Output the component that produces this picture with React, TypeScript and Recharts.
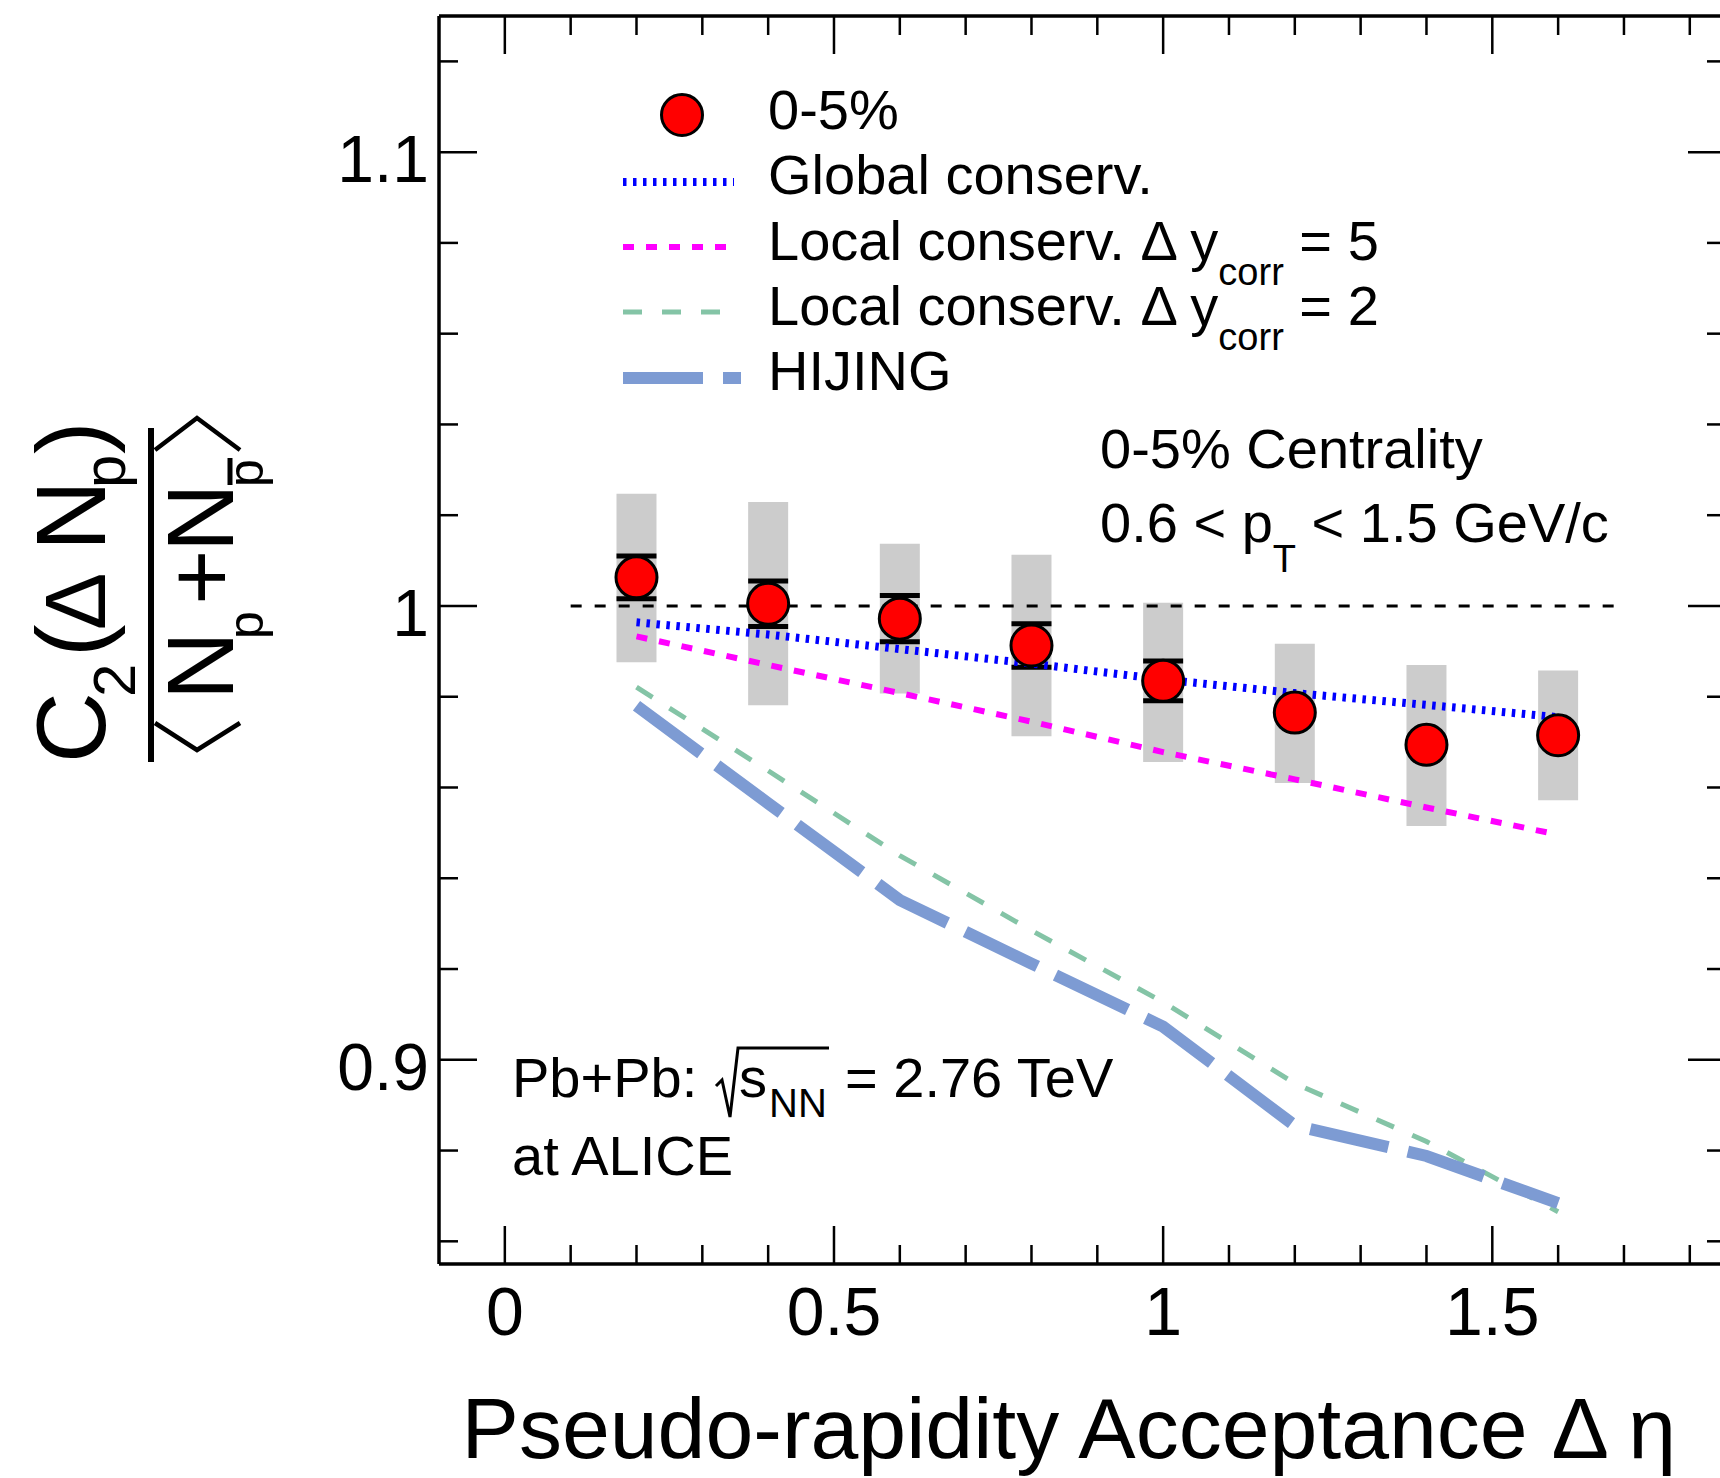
import React from 'react';
import {
  ComposedChart,
  Line,
  Scatter,
  ErrorBar,
  XAxis,
  YAxis,
  Customized,
} from 'recharts';

// measured points, 0-5% centrality
const etaBins = [0.2, 0.4, 0.6, 0.8, 1.0, 1.2, 1.4, 1.6];
const c2Values = [1.0063, 1.0005, 0.9972, 0.9913, 0.9835, 0.9765, 0.9694, 0.9715];
// last three stat bars are hidden behind the markers in the original
const statErr = [0.0047, 0.005, 0.0051, 0.0048, 0.0044, null, null, null];
const sysLow = [0.9876, 0.9781, 0.9807, 0.9713, 0.9656, 0.961, 0.9515, 0.9572];
const sysHigh = [1.0247, 1.0229, 1.0137, 1.0113, 1.0007, 0.9917, 0.987, 0.9858];

// model curves on the same bins
const globalCons = [0.9964, 0.9937, 0.9905, 0.9873, 0.9838, 0.9808, 0.9782, 0.9755];
const localCons5 = [0.9933, 0.987, 0.9808, 0.9745, 0.9678, 0.9618, 0.9556, 0.9496];
const localCons2 = [0.9821, 0.9637, 0.945, 0.9285, 0.9127, 0.8948, 0.882, 0.8665];
const hijing = [0.978, 0.9565, 0.9352, 0.9212, 0.9073, 0.8855, 0.8788, 0.8684];

// unity reference
const unityX = [0.1, 1.7];
const unityY = 1;

// axes
const xDomain = [-0.1, 1.855];
const yDomain = [0.855, 1.13];
const xTicks = [0, 0.1, 0.2, 0.3, 0.4, 0.5, 0.6, 0.7, 0.8, 0.9, 1, 1.1, 1.2, 1.3, 1.4, 1.5, 1.6, 1.7, 1.8];
const xMajor = [0, 0.5, 1, 1.5];
const xLabels = ['0', '0.5', '1', '1.5'];
const yTicks = [0.86, 0.88, 0.9, 0.92, 0.94, 0.96, 0.98, 1, 1.02, 1.04, 1.06, 1.08, 1.1, 1.12];
const yMajor = [0.9, 1, 1.1];
const yLabels = ['0.9', '1', '1.1'];

const FONT = '"Liberation Sans", Arial, Helvetica, sans-serif';
const W = 1760;
const H = 1478;

const points = etaBins.map((x, i) => ({
  x,
  y: c2Values[i],
  stat: statErr[i],
  sys: [c2Values[i] - sysLow[i], sysHigh[i] - c2Values[i]],
}));
const toRows = (vals: number[]) => etaBins.map((x, i) => ({ x, y: vals[i] }));
const unityRows = unityX.map((x) => ({ x, y: unityY }));

const MAJOR = 38;
const MINOR = 19;

const BottomTick = (p: any) => {
  const i = xMajor.indexOf(p.payload.value);
  const len = i >= 0 ? MAJOR : MINOR;
  return (
    <g>
      <line x1={p.x} y1={p.y} x2={p.x} y2={p.y - len} stroke="#000" strokeWidth={2.5} />
      {i >= 0 && (
        <text x={p.x} y={p.y + 71} textAnchor="middle" fontSize={68} fontFamily={FONT} fill="#000">
          {xLabels[i]}
        </text>
      )}
    </g>
  );
};

const TopTick = (p: any) => {
  const len = xMajor.includes(p.payload.value) ? MAJOR : MINOR;
  return <line x1={p.x} y1={p.y} x2={p.x} y2={p.y + len} stroke="#000" strokeWidth={2.5} />;
};

const LeftTick = (p: any) => {
  const i = yMajor.indexOf(p.payload.value);
  const len = i >= 0 ? MAJOR : MINOR;
  return (
    <g>
      <line x1={p.x} y1={p.y} x2={p.x + len} y2={p.y} stroke="#000" strokeWidth={2.5} />
      {i >= 0 && (
        <text x={p.x - 10} y={p.y + 30} textAnchor="end" fontSize={66} fontFamily={FONT} fill="#000">
          {yLabels[i]}
        </text>
      )}
    </g>
  );
};

const RightTick = (p: any) => {
  const len = yMajor.includes(p.payload.value) ? MAJOR : MINOR;
  return <line x1={p.x} y1={p.y} x2={p.x - len} y2={p.y} stroke="#000" strokeWidth={2.5} />;
};

const Marker = (p: any) => (
  <circle cx={p.cx} cy={p.cy} r={20.5} fill="#ff0000" stroke="#000" strokeWidth={3} />
);
const NoShape = () => <g />;

const Annotations = () => {
  const t = { fontFamily: FONT, fill: '#000' };
  return (
    <g>
      {/* legend */}
      <circle cx={682} cy={115} r={20.5} fill="#ff0000" stroke="#000" strokeWidth={3} />
      <line x1={623} y1={182} x2={734} y2={182} stroke="#0000ff" strokeWidth={8} strokeDasharray="3.5 6.5" />
      <line x1={623} y1={247} x2={730} y2={247} stroke="#ff00ff" strokeWidth={6} strokeDasharray="11 12" />
      <line x1={623} y1={312} x2={722} y2={312} stroke="#84c4a6" strokeWidth={5} strokeDasharray="19 20" />
      <line x1={623} y1={378} x2={741} y2={378} stroke="#7d9bd3" strokeWidth={12} strokeDasharray="80 20" />
      <text x={768} y={129} fontSize={56} {...t}>0-5%</text>
      <text x={768} y={194} fontSize={56} {...t}>Global conserv.</text>
      <text x={768} y={260} fontSize={56} {...t}>
        Local conserv. Δ y<tspan fontSize={38} dy={25}>corr</tspan><tspan dy={-25}> = 5</tspan>
      </text>
      <text x={768} y={325} fontSize={56} {...t}>
        Local conserv. Δ y<tspan fontSize={38} dy={25}>corr</tspan><tspan dy={-25}> = 2</tspan>
      </text>
      <text x={768} y={390} fontSize={56} {...t}>HIJING</text>

      {/* selection */}
      <text x={1100} y={468} fontSize={56} {...t}>0-5% Centrality</text>
      <text x={1100} y={542} fontSize={56} {...t}>
        0.6 &lt; p<tspan fontSize={38} dy={30}>T</tspan><tspan dy={-30}> &lt; 1.5 GeV/c</tspan>
      </text>

      {/* system */}
      <text x={512} y={1097} fontSize={56} {...t}>Pb+Pb:</text>
      <polyline points="716,1086 722,1080 730,1117 738,1048 829,1048" fill="none" stroke="#000" strokeWidth={3} />
      <text x={739} y={1097} fontSize={56} {...t}>s</text>
      <text x={769} y={1117} fontSize={40} {...t}>NN</text>
      <text x={845} y={1097} fontSize={56} {...t}>= 2.76 TeV</text>
      <text x={512} y={1175} fontSize={56} {...t}>at ALICE</text>

      {/* y title */}
      <g transform="translate(151,595) rotate(-90)">
        <line x1={-167} y1={0} x2={167} y2={0} stroke="#000" strokeWidth={6} />
        <text x={-168} y={-46} fontSize={98} {...t}>C</text>
        <text x={-102} y={-16} fontSize={60} {...t}>2</text>
        <text x={-62} y={-46} fontSize={98} {...t}>(</text>
        <text x={-35} y={-46} fontSize={86} {...t}>Δ</text>
        <text x={44} y={-46} fontSize={98} {...t}>N</text>
        <text x={107} y={-26} fontSize={60} {...t}>p</text>
        <text x={141} y={-46} fontSize={98} {...t}>)</text>
        <polyline points="-128,4 -155,46 -128,89" fill="none" stroke="#000" strokeWidth={4.5} />
        <text x={-105} y={82} fontSize={95} {...t}>N</text>
        <text x={-44} y={112} fontSize={50} {...t}>p</text>
        <text x={-10} y={82} fontSize={95} {...t}>+</text>
        <text x={43} y={82} fontSize={95} {...t}>N</text>
        <text x={108} y={112} fontSize={50} {...t}>p</text>
        <line x1={110} y1={79} x2={137} y2={79} stroke="#000" strokeWidth={5} />
        <polyline points="145,4 177,46 145,89" fill="none" stroke="#000" strokeWidth={4.5} />
      </g>

      {/* x title */}
      <text x={1676} y={1458} fontSize={86} textAnchor="end" {...t}>
        Pseudo-rapidity Acceptance Δ η
      </text>
    </g>
  );
};

export default function App() {
  return (
    <div style={{ position: 'absolute', left: 0, top: 0, width: 1720, height: 1478, overflow: 'hidden', background: '#fff' }}>
      <ComposedChart width={W} height={H} margin={{ top: 0, right: 0, bottom: 0, left: 0 }}>
        <XAxis
          xAxisId="bottom"
          dataKey="x"
          type="number"
          orientation="bottom"
          domain={xDomain}
          allowDataOverflow
          ticks={xTicks}
          interval={0}
          height={214}
          tickSize={0}
          tickMargin={0}
          tickLine={false}
          axisLine={{ stroke: '#000', strokeWidth: 3.5 }}
          tick={BottomTick}
        />
        <XAxis
          xAxisId="top"
          dataKey="x"
          type="number"
          orientation="top"
          domain={xDomain}
          allowDataOverflow
          ticks={xTicks}
          interval={0}
          height={16}
          tickSize={0}
          tickMargin={0}
          tickLine={false}
          axisLine={{ stroke: '#000', strokeWidth: 3.5 }}
          tick={TopTick}
        />
        <YAxis
          yAxisId="left"
          type="number"
          orientation="left"
          domain={yDomain}
          allowDataOverflow
          ticks={yTicks}
          interval={0}
          width={439}
          tickSize={0}
          tickMargin={0}
          tickLine={false}
          axisLine={{ stroke: '#000', strokeWidth: 3.5 }}
          tick={LeftTick}
        />
        <YAxis
          yAxisId="right"
          type="number"
          orientation="right"
          domain={yDomain}
          allowDataOverflow
          ticks={yTicks}
          interval={0}
          width={34}
          tickSize={0}
          tickMargin={0}
          tickLine={false}
          axisLine={{ stroke: '#000', strokeWidth: 3.5 }}
          tick={RightTick}
        />

        {/* systematic boxes */}
        <Scatter data={points} dataKey="y" xAxisId="bottom" yAxisId="left" shape={NoShape} isAnimationActive={false}>
          <ErrorBar dataKey="sys" direction="y" width={0} stroke="#cccccc" strokeWidth={40} isAnimationActive={false} />
        </Scatter>
        {/* statistical errors */}
        <Scatter data={points} dataKey="y" xAxisId="bottom" yAxisId="left" shape={NoShape} isAnimationActive={false}>
          <ErrorBar dataKey="stat" direction="y" width={20} stroke="#000" strokeWidth={5} isAnimationActive={false} />
        </Scatter>
        <Scatter data={points} dataKey="y" xAxisId="bottom" yAxisId="left" shape={Marker} isAnimationActive={false} />

        <Line data={toRows(localCons2)} dataKey="y" xAxisId="bottom" yAxisId="left" type="linear" stroke="#84c4a6" strokeWidth={5} strokeDasharray="19 20" dot={false} activeDot={false} isAnimationActive={false} />
        <Line data={toRows(hijing)} dataKey="y" xAxisId="bottom" yAxisId="left" type="linear" stroke="#7d9bd3" strokeWidth={12} strokeDasharray="80 20" dot={false} activeDot={false} isAnimationActive={false} />
        <Line data={toRows(localCons5)} dataKey="y" xAxisId="bottom" yAxisId="left" type="linear" stroke="#ff00ff" strokeWidth={6} strokeDasharray="11 12" dot={false} activeDot={false} isAnimationActive={false} />
        <Line data={toRows(globalCons)} dataKey="y" xAxisId="bottom" yAxisId="left" type="linear" stroke="#0000ff" strokeWidth={8} strokeDasharray="3.5 6.5" dot={false} activeDot={false} isAnimationActive={false} />
        <Line data={unityRows} dataKey="y" xAxisId="top" yAxisId="right" type="linear" stroke="#000" strokeWidth={3} strokeDasharray="11 13" dot={false} activeDot={false} isAnimationActive={false} />

        <Customized component={Annotations} />
      </ComposedChart>
    </div>
  );
}
